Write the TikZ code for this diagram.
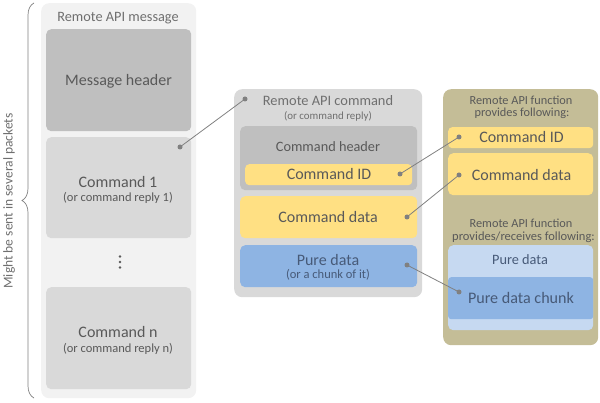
\documentclass[tikz,border=0pt]{standalone}
\usepackage{fontspec}
\setmainfont{Carlito}
\usetikzlibrary{decorations.pathreplacing}
\definecolor{panelL}{HTML}{F2F2F2}
\definecolor{grayA}{HTML}{BFBFBF}
\definecolor{grayB}{HTML}{D9D9D9}
\definecolor{yel}{HTML}{FFE083}
\definecolor{blu}{HTML}{8EB4E3}
\definecolor{lblu}{HTML}{C6D9F1}
\definecolor{tan}{HTML}{C4BD97}
\definecolor{txt}{HTML}{595959}
\definecolor{txtL}{HTML}{6F6F6F}
\definecolor{txtB}{HTML}{475A78}
\definecolor{linec}{HTML}{808080}
\newcommand\fsz[1]{\fontsize{#1}{#1}\selectfont}
\tikzset{
  panel/.style={rounded corners=8pt, inner sep=0pt, anchor=north west, draw=none},
  bx/.style={rounded corners=5pt, inner sep=0pt, anchor=north west, draw=none},
  lbl/.style={inner sep=0pt, text=txt, anchor=center},
  dotc/.style={circle, fill=linec, inner sep=0pt, minimum size=5pt},
  conn/.style={draw=linec, line width=0.8pt},
}
\begin{document}
\begin{tikzpicture}[x=1pt,y=-1pt]
\useasboundingbox (0,0) rectangle (600,403);
% left panel
\node[panel, fill=panelL, minimum width=155pt, minimum height=395pt] (msg) at (41,3) {};
\node[bx, fill=grayA, minimum width=145pt, minimum height=102pt] (msghdr) at (46,29) {};
\node[bx, fill=grayB, minimum width=145pt, minimum height=101pt] (cmd1) at (46,137) {};
\node[bx, fill=grayB, minimum width=145pt, minimum height=102pt] (cmdn) at (46,287) {};
\node[lbl, text=txtL] (tmsg) at (118,18) {\fsz{14.3}Remote API message};
\node[lbl] (tmsghdr) at (118.5,81) {\fsz{16}Message header};
\node[lbl] (tcmd1) at (118,182) {\fsz{16}Command 1};
\node[lbl] (tcmd1b) at (118,198) {\fsz{12.5}(or command reply 1)};
\node[lbl] (tcmdn) at (118,332) {\fsz{16}Command n};
\node[lbl] (tcmdnb) at (118,349) {\fsz{12.5}(or command reply n)};
\foreach \yy in {256.5,262,267.5} \fill[txt] (120,\yy) circle (1.4pt);
% brace
\draw[linec, line width=0.7pt, decorate, decoration={brace, amplitude=12pt}] (34,398) -- (34,3);
\node[lbl, text=txtL, rotate=90] (tbrace) at (9,201) {\fsz{13.5}Might be sent in several packets};
% middle panel
\node[panel, fill=grayB, minimum width=188pt, minimum height=208pt] (cmdp) at (234,89) {};
\node[bx, fill=grayA, minimum width=177pt, minimum height=64pt] (cmdhdr) at (240,126) {};
\node[bx, fill=yel, rounded corners=4pt, minimum width=167pt, minimum height=21pt] (cmdid) at (245,164) {};
\node[bx, fill=yel, minimum width=177pt, minimum height=42pt] (cmddata) at (240,196) {};
\node[bx, fill=blu, minimum width=177pt, minimum height=42pt] (pure) at (240,245) {};
\node[lbl, text=txtL] (tcmdp) at (328,101) {\fsz{14.4}Remote API command};
\node[lbl, text=txtL] (tcmdpb) at (328,116) {\fsz{10.9}(or command reply)};
\node[lbl] (tcmdhdr) at (328,147) {\fsz{14.3}Command header};
\node[lbl] (tcmdid) at (329,174) {\fsz{16}Command ID};
\node[lbl] (tcmddata) at (328,217) {\fsz{16}Command data};
\node[lbl, text=txtB] (tpure) at (328,260) {\fsz{16}Pure data};
\node[lbl, text=txtB] (tpureb) at (328,275) {\fsz{12.5}(or a chunk of it)};
% right panel
\node[panel, fill=tan, minimum width=155pt, minimum height=256pt] (fn) at (443,89) {};
\node[bx, fill=yel, rounded corners=4pt, minimum width=145pt, minimum height=21pt] (rcmdid) at (448,127) {};
\node[bx, fill=yel, minimum width=145pt, minimum height=42pt] (rcmddata) at (448,153) {};
\node[bx, fill=lblu, minimum width=145pt, minimum height=85pt] (rpure) at (448,245) {};
\node[bx, fill=blu, rounded corners=3pt, minimum width=145pt, minimum height=42pt] (rchunk) at (448,277) {};
\node[lbl] (tfn1) at (521,100) {\fsz{12.3}Remote API function};
\node[lbl] (tfn1b) at (522,113) {\fsz{12.3}provides following:};
\node[lbl] (trcmdid) at (521.5,137) {\fsz{16}Command ID};
\node[lbl] (trcmddata) at (521.5,175) {\fsz{16}Command data};
\node[lbl] (tfn2) at (521,223) {\fsz{12.3}Remote API function};
\node[lbl] (tfn2b) at (523.5,237) {\fsz{12.5}provides/receives following:};
\node[lbl, text=txtB] (trpure) at (520,260) {\fsz{14.3}Pure data};
\node[lbl, text=txtB] (trchunk) at (521,298) {\fsz{16.1}Pure data chunk};
% dots and connectors
\node[dotc] (d1) at (180,147) {};
\node[dotc] (d2) at (245,99) {};
\node[dotc] (d3) at (400,174) {};
\node[dotc] (d4) at (459,137) {};
\node[dotc] (d5) at (407,217) {};
\node[dotc] (d6) at (459,175) {};
\node[dotc] (d7) at (407,265) {};
\node[dotc] (d8) at (459,292) {};
\draw[conn] (d1.center) -- (d2.center);
\draw[conn] (d3.center) -- (d4.center);
\draw[conn] (d5.center) -- (d6.center);
\draw[conn] (d7.center) -- (d8.center);
\end{tikzpicture}
\end{document}
